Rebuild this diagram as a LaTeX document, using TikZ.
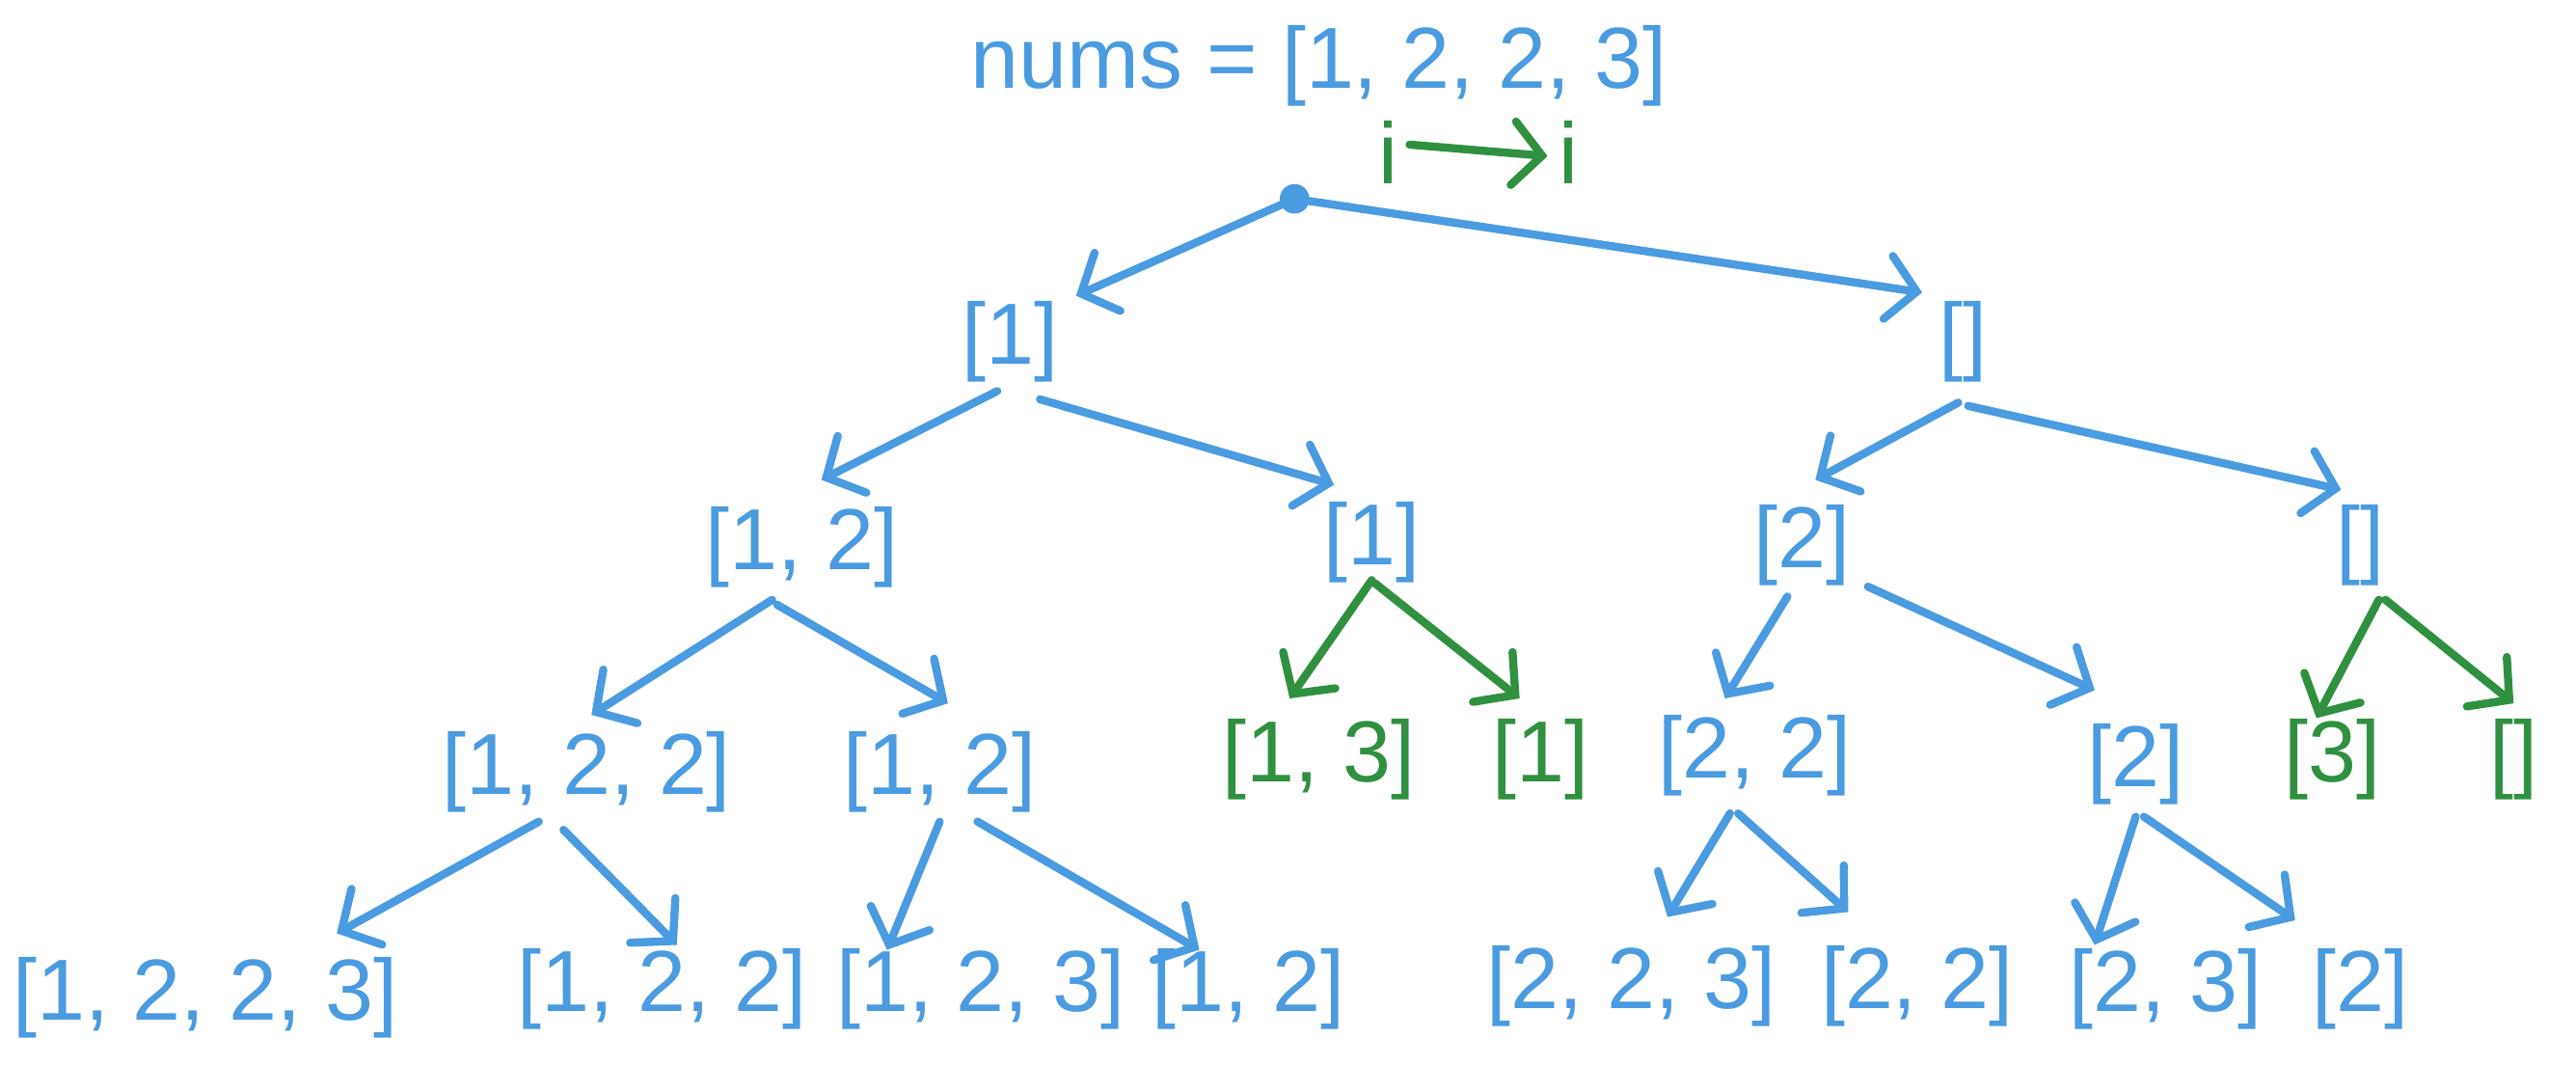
\documentclass[tikz,border=0pt]{standalone}
\usepackage{fontspec}
\setmainfont{Liberation Sans}
\usetikzlibrary{arrows.meta,calc}
\definecolor{bl}{HTML}{4A9BE0}
\definecolor{gr}{HTML}{2F9140}
\tikzset{
  lbl/.style={text=bl, font=\fontsize{15}{18}\selectfont, inner sep=1pt},
  glbl/.style={lbl, text=gr},
  edge/.style={draw=bl, line width=1.4pt, line cap=round, -{Straight Barb[length=5pt,width=11pt,line cap=round]}},
  gedge/.style={edge, draw=gr},
}
\newcommand\E[5][edge]{\draw[#1] ($(#2)+(#3)$) -- ($(#4)+(#5)$);}
\begin{document}
\begin{tikzpicture}[x=0.01cm,y=-0.01cm]
\useasboundingbox (0,0) rectangle (1568,648);
\node[lbl] (t) at (803,40) {nums = [1, 2, 2, 3]};
\node[glbl] (i1) at (845,93) {i};
\node[glbl] (i2) at (955,93) {i};
\fill[bl] (788,121) circle (9);
\coordinate (r) at (788,121);
\node[lbl] (a) at (615,208) {[1]};
\node[lbl] (b) at (1195,208) {[]};
\node[lbl] (a1) at (488,333) {[1, 2]};
\node[lbl] (a2) at (835,330) {[1]};
\node[lbl] (b1) at (1097,332) {[2]};
\node[lbl] (b2) at (1437,332) {[]};
\node[lbl] (a11) at (357,470) {[1, 2, 2]};
\node[lbl] (a12) at (572,470) {[1, 2]};
\node[glbl] (a21) at (803,462) {[1, 3]};
\node[glbl] (a22) at (938,462) {[1]};
\node[lbl] (b11) at (1068,460) {[2, 2]};
\node[lbl] (b12) at (1300,465) {[2]};
\node[glbl] (b21) at (1420,462) {[3]};
\node[glbl] (b22) at (1530,462) {[]};
\node[lbl] (c1) at (125,607) {[1, 2, 2, 3]};
\node[lbl] (c2) at (403,602) {[1, 2, 2]};
\node[lbl] (c3) at (597,602) {[1, 2, 3]};
\node[lbl] (c4) at (760,602) {[1, 2]};
\node[lbl] (c5) at (993,600) {[2, 2, 3]};
\node[lbl] (c6) at (1167,600) {[2, 2]};
\node[lbl] (c7) at (1318,602) {[2, 3]};
\node[lbl] (c8) at (1437,602) {[2]};
\E[gedge]{i1}{13,-5}{i2}{-13,2}
\E{r}{0,0}{a}{40,-28}
\E{r}{0,0}{b}{-25,-30}
\E{a}{-8,30}{a1}{12,-41}
\E{a}{18,35}{a2}{-23,-35}
\E{b}{-3,37}{b1}{8,-40}
\E{b}{3,39}{b2}{-12,-34}
\E{a1}{-18,32}{a11}{3,-35}
\E{a1}{-15,35}{a12}{5,-42}
\E[gedge]{a2}{0,23}{a21}{-18,-37}
\E[gedge]{a2}{2,25}{a22}{-13,-37}
\E{b1}{-9,31}{b11}{-18,-35}
\E{b1}{40,25}{b12}{-25,-45}
\E[gedge]{b2}{11,33}{b21}{-10,-25}
\E[gedge]{b2}{15,33}{b22}{0,-34}
\E{a11}{-29,30}{c1}{80,-39}
\E{a11}{-14,35}{c2}{9,-27}
\E{a12}{0,30}{c3}{-57,-24}
\E{a12}{23,30}{c4}{-30,-24}
\E{b11}{-15,35}{c5}{22,-42}
\E{b11}{-10,35}{c6}{-42,-45}
\E{b12}{0,32}{c7}{-43,-27}
\E{b12}{5,32}{c8}{-40,-42}
\end{tikzpicture}
\end{document}
